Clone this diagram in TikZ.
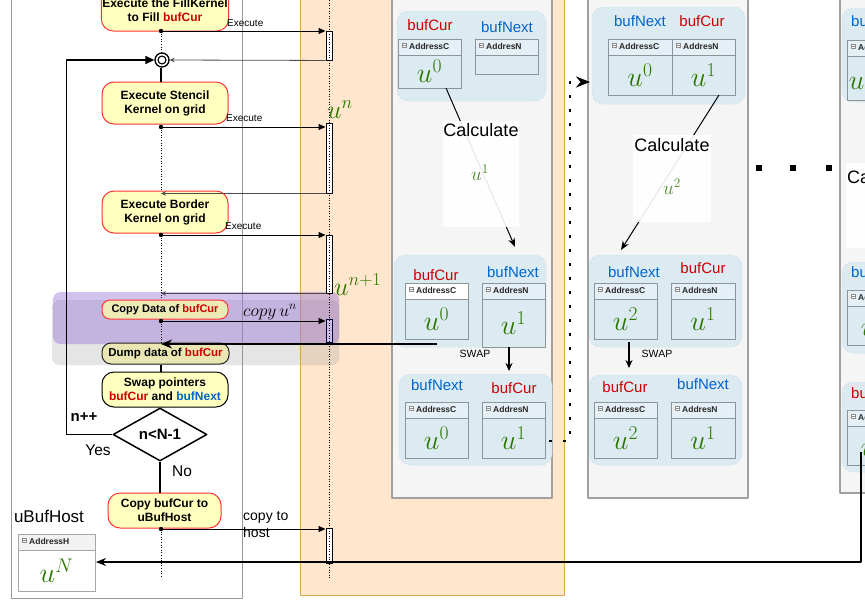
\documentclass[tikz,border=0pt]{standalone}
\usepackage{fix-cm}
\usepackage[no-math]{fontspec}
\setmainfont{Liberation Sans}
\usetikzlibrary{arrows.meta,shapes.geometric}
\definecolor{boxyellow}{HTML}{FFFFC0}
\definecolor{boxred}{HTML}{FF3333}
\definecolor{txtred}{HTML}{CC0000}
\definecolor{txtblue}{HTML}{0066CC}
\definecolor{ugreen}{HTML}{2D7600}
\definecolor{lifeorange}{HTML}{FFE6CC}
\definecolor{lifeedge}{HTML}{E3A84A}
\definecolor{panelgray}{HTML}{F5F5F5}
\definecolor{paneledge}{HTML}{A0A0A0}
\definecolor{grpblue}{HTML}{DCEAF2}
\definecolor{grpedge}{HTML}{C8DCE8}
\definecolor{tblhead}{HTML}{E4F0F6}
\definecolor{tbledge}{HTML}{8A9499}
\definecolor{copyfill}{HTML}{EEEAB6}
\definecolor{dumpfill}{HTML}{E9E6B3}
\definecolor{grppurple}{HTML}{9470D6}
\newcommand{\bcur}{\textcolor{txtred}{bufCur}}
\newcommand{\bnext}{\textcolor{txtblue}{bufNext}}
% table of one buffer: name, x1, y1, x2, y2, header, value
\newcommand{\bufbox}[7]{%
  \draw[tblline, hdfill] (#2,#3) rectangle (#4,#3+16);
  \draw[tblline, bdfill] (#2,#3+16) rectangle (#4,#5);
  \draw[black!45, line width=0.5pt, fill=white] (#2+4,#3+4) rectangle (#2+8.5,#3+8.5);
  \draw[black!45, line width=0.5pt] (#2+5,#3+6.25) -- (#2+7.5,#3+6.25);
  \node[tblhdr] at (#2+11,#3+7.5) {#6};
  \node[uval] (#1) at ({(#2+#4)/2},{(#3+16+#5)/2}) {#7};
}
\begin{document}
\begin{tikzpicture}[x=1pt, y=-1pt, line join=round,
  >={Triangle[length=7pt, width=6pt]},
  proc/.style={draw=boxred, fill=boxyellow, line width=1pt, rounded corners=12pt, align=center, inner sep=1pt, minimum width=126pt, minimum height=42pt, font=\bfseries\fontsize{12}{14}\selectfont},
  decide/.style={diamond, draw, line width=1.5pt, fill=white, inner sep=0pt, minimum width=94pt, minimum height=53pt, font=\bfseries\fontsize{15}{17}\selectfont},
  lifebar/.style={draw, fill=white, line width=0.9pt, minimum width=6pt, inner sep=0pt},
  flowline/.style={line width=1.3pt},
  dotline/.style={line width=0.9pt, dash pattern=on 1pt off 1.6pt},
  execline/.style={line width=1pt, ->},
  retarrow/.style={draw=black!70, line width=0.8pt, -{Stealth[length=5pt, width=4.5pt]}},
  smalllbl/.style={font=\fontsize{10}{12}\selectfont, inner sep=0pt, anchor=base west},
  bufgroup/.style={fill=grpblue, draw=grpedge, dash pattern=on 2pt off 2pt, line width=0.5pt, rounded corners=11pt},
  gpanel/.style={fill=panelgray, draw=paneledge, line width=1.6pt},
  tblline/.style={draw=tbledge, line width=0.8pt},
  hdfill/.style={fill=tblhead},
  bdfill/.style={fill=grpblue},
  tblhdr/.style={font=\bfseries\fontsize{8.5}{10}\selectfont, text=black!85, inner sep=0pt, anchor=west},
  uval/.style={text=ugreen, font=\fontsize{28}{32}\selectfont, inner sep=0pt},
  usmall/.style={text=ugreen!85!white, font=\fontsize{19}{22}\selectfont, inner sep=0pt},
  curlbl/.style={text=txtred, font=\fontsize{15}{18}\selectfont},
  nxtlbl/.style={text=txtblue, font=\fontsize{15}{18}\selectfont},
  calcbox/.style={fill=white, fill opacity=0.9, inner sep=0pt},
  calclbl/.style={font=\fontsize{18}{21}\selectfont, inner sep=0pt},
  calcarrow/.style={line width=1pt, -{Stealth[length=9pt, width=7pt]}},
  swaparrow/.style={line width=1.1pt, -{Stealth[length=8pt, width=7pt]}},
  swaplbl/.style={font=\fontsize{10.5}{12}\selectfont},
  bigtxt/.style={font=\fontsize{15.5}{18}\selectfont},
  bigdots/.style={line width=2.6pt, dash pattern=on 2.6pt off 11.4pt, -{Stealth[length=14pt, width=11pt]}}]
\useasboundingbox (0,0) rectangle (865,614);
\clip (0,0) rectangle (865,614);

% panels
\draw[black!40, line width=1pt] (11,-5) rectangle (242,598);
\draw[fill=lifeorange, draw=lifeedge, line width=0.9pt] (300,-5) rectangle (564,595);
\foreach \x/\b in {392/498, 588/498, 840/493} \draw[gpanel] (\x,-5) rectangle (\x+160,\b);

% column 1
\draw[bufgroup] (397,11) rectangle (546,101);
\draw[bufgroup] (394,255) rectangle (546,347);
\draw[bufgroup] (399,374) rectangle (552,465);
\node[curlbl] at (430,25) {bufCur};
\node[nxtlbl] at (507,27) {bufNext};
\bufbox{a0}{398}{39}{461}{88}{AddressC}{$u^0$}
\bufbox{a1}{475}{39}{538}{74}{AddresN}{}
\coordinate (k1) at (446,88);
\coordinate (k1e) at (515,247);
\draw[calcarrow] (k1) -- (k1e);
\node[calcbox, minimum width=76pt, minimum height=106pt] (calc1) at (481,174) {};
\node[calclbl] at (481,130) {Calculate};
\node[usmall] at (480,173) {$u^1$};
\node[curlbl] at (436,275) {bufCur};
\node[nxtlbl] at (513,272) {bufNext};
\begin{scope}[hdfill/.style={fill=white}]
\bufbox{b0}{405}{283}{468}{339}{AddressC}{$u^0$}
\end{scope}
\bufbox{b1}{482}{283}{545}{347}{AddresN}{$u^1$}
\coordinate (sw1) at (509,347);
\draw[swaparrow] (sw1) -- ++(0,24);
\node[swaplbl] at (475,354) {SWAP};
\node[nxtlbl] at (437,385) {bufNext};
\node[curlbl] at (514,388) {bufCur};
\bufbox{c0}{405}{402}{468}{458}{AddressC}{$u^0$}
\bufbox{c1}{482}{402}{545}{458}{AddresN}{$u^1$}

% column 2
\draw[bufgroup] (592,7) rectangle (745,104);
\draw[bufgroup] (589,255) rectangle (742,347);
\draw[bufgroup] (589,375) rectangle (742,465);
\node[nxtlbl] at (640,21) {bufNext};
\node[curlbl] at (702,21) {bufCur};
\bufbox{p0}{608}{39}{672}{95}{AddressC}{$u^0$}
\bufbox{p1}{672}{39}{735}{95}{AddresN}{$u^1$}
\coordinate (k2) at (719,95);
\coordinate (k2e) at (621,250);
\draw[calcarrow] (k2) -- (k2e);
\node[calcbox, minimum width=78pt, minimum height=87pt] (calc2) at (672,178.5) {};
\node[calclbl] at (672,145) {Calculate};
\node[usmall] at (672,187) {$u^2$};
\node[nxtlbl] at (634,272) {bufNext};
\node[curlbl] at (703,268) {bufCur};
\bufbox{q0}{594}{283}{657}{339}{AddressC}{$u^2$}
\bufbox{q1}{671}{283}{735}{339}{AddresN}{$u^1$}
\coordinate (sw2) at (629,342);
\draw[swaparrow] (sw2) -- ++(0,26);
\node[swaplbl] at (657,354) {SWAP};
\node[curlbl] at (625,387) {bufCur};
\node[nxtlbl] at (703,384) {bufNext};
\bufbox{s0}{594}{402}{657}{458}{AddressC}{$u^2$}
\bufbox{s1}{671}{402}{735}{458}{AddresN}{$u^1$}

% column 3
\draw[bufgroup] (842,8) rectangle (910,102);
\draw[bufgroup] (842,262) rectangle (910,353);
\draw[bufgroup] (842,382) rectangle (910,472);
\node[nxtlbl, anchor=west, inner sep=0pt] at (851,21) {bufNext};
\node[nxtlbl, anchor=west, inner sep=0pt] at (851,272) {bufNext};
\node[curlbl, anchor=west, inner sep=0pt] at (851,393) {bufCur};
\bufbox{r0}{847}{40}{876}{100}{AddressC}{$u^2$}
\bufbox{r1}{847}{290}{900}{345}{AddressC}{$u^2$}
\bufbox{r2}{847}{410}{900}{465}{AddressC}{$u^3$}
\node[calcbox, minimum width=80pt, minimum height=85pt, anchor=north west] (calc3) at (846,163) {};
\node[calclbl, anchor=west] at (847,177) {Calculate};

% copy / dump groups
\draw[fill=black!40, fill opacity=0.25, draw=black!30, draw opacity=0.4, dash pattern=on 2pt off 2pt, rounded corners=8pt] (52,300) rectangle (339,365);
\draw[fill=grppurple, fill opacity=0.42, draw=grppurple, draw opacity=0.3, dash pattern=on 2pt off 2pt, rounded corners=8pt] (53,292) rectangle (339,344);

% lifeline
\node[lifebar, minimum height=29pt] (bar1) at (329,45.5) {};
\node[lifebar, minimum height=70pt] (bar2) at (329,158) {};
\node[lifebar, minimum height=58pt] (bar3) at (329,264) {};
\node[lifebar, minimum height=23pt, fill=grppurple!45!white, draw=black!80!blue] (bar4) at (329,330.5) {};
\node[lifebar, minimum height=35pt] (bar5) at (329,545.5) {};
\coordinate (ltop) at (329,-5);
\coordinate (lbot) at (329,578);
\draw[dotline] (ltop) -- (lbot);
\node[uval, font=\fontsize{26}{28}\selectfont, anchor=base west] at (327,118) {$u^n$};
\node[uval, font=\fontsize{26}{28}\selectfont, anchor=base west] at (334,295) {$u^{n+1}$};

% flow chart
\coordinate (cx) at (161,0);
\node[proc] (fill) at (165,10) {Execute the FillKernel\\to Fill \bcur};
\node[circle, draw, line width=1.3pt, fill=white, minimum size=14pt, inner sep=0pt] (merge) at (162,60) {};
\draw[line width=1.1pt] (merge) circle (4pt);
\node[proc] (stencil) at (165,103) {Execute Stencil\\Kernel on grid};
\node[proc] (border) at (165,212) {Execute Border\\Kernel on grid};
\node[proc, fill=copyfill, minimum height=19pt, rounded corners=8pt, font=\bfseries\fontsize{11}{13}\selectfont] (copyd) at (165,309.5) {Copy Data of \bcur};
\node[proc, draw=black!85, fill=dumpfill, minimum width=127pt, minimum height=21pt, rounded corners=9pt, font=\bfseries\fontsize{11.5}{13}\selectfont] (dump) at (165.5,353.5) {Dump data of \bcur};
\node[proc, draw=black, minimum height=35pt] (swap) at (165,389.5) {Swap pointers\\\bcur{} and \bnext};
\node[decide] (cond) at (160,434.5) {n<N-1};
\node[proc, minimum width=113pt, minimum height=35pt] (copyh) at (164.5,510.5) {Copy bufCur to\\uBufHost};

\coordinate (d1) at (161,31);
\coordinate (d2) at (161,127);
\coordinate (d3) at (161,235);
\coordinate (d4) at (161,321);
\coordinate (d5) at (161,529);
\draw[dotline] (d1) -- (d1 |- merge.north);
\draw[flowline] (d1 |- merge.south) -- (stencil.north -| cx);
\draw[dotline] (d2) -- (border.north -| cx);
\draw[dotline] (d3) -- (copyd.north -| cx);
\draw[dotline] (d4) -- (dump.north -| cx);
\draw[flowline] (dump.south -| cx) -- (swap.north -| cx);
\draw[flowline] (cond.south) -- (cond.south |- copyh.north);
\draw[dotline] (d5) -- (d5 |- lbot);
\draw[flowline, ->, >={Triangle[length=9pt, width=8pt]}] (cond.west) -- ++(-46,0) |- (merge.west);
\node[bigtxt, font=\bfseries\fontsize{15}{18}\selectfont] at (84,417) {n++};
\node[bigtxt] at (98,450) {Yes};
\node[bigtxt] at (182,471) {No};

% calls to the device and back
\draw[execline] (d1) -- (d1 -| bar1.west);
\draw[execline] (d2) -- (d2 -| bar2.west);
\draw[execline] (d3) -- (d3 -| bar3.west);
\draw[execline] (d4) -- (d4 -| bar4.west);
\draw[execline] (d5) -- (d5 -| bar5.west);
\foreach \d in {d1,d2,d3,d4,d5} \fill (\d) circle (2.2pt);
\node[smalllbl] at (227,26) {Execute};
\node[smalllbl] at (226,121) {Execute};
\node[smalllbl] at (225,229) {Execute};
\node[anchor=base west, inner sep=0pt, font=\fontsize{17.5}{20}\selectfont] at (243,316) {$copy\,u^n$};
\node[anchor=north west, inner sep=0pt, align=left, font=\fontsize{14}{17}\selectfont] at (243,511) {copy to\\host};
\draw[retarrow] (bar1.south west) -- (merge.east);
\draw[retarrow] (bar2.south west) -- (bar2.south west -| cx);
\draw[retarrow] (bar3.south west) -- (bar3.south west -| cx);
\coordinate (swapout) at (437,344);
\draw[line width=2pt, -{Stealth[length=11pt, width=9pt]}] (swapout) -- (swapout -| cx);

% host buffer
\node[font=\fontsize{17}{20}\selectfont] at (49,516) {uBufHost};
\begin{scope}[hdfill/.style={fill=black!5}, bdfill/.style={fill=white}, tblline/.style={draw=black!35, line width=1pt}]
\bufbox{uh}{18}{534}{95}{591}{AddressH}{$u^N$}
\end{scope}
\coordinate (c3u) at (861,452);
\coordinate (hostin) at (96,562);
\draw[line width=1.2pt, -{Stealth[length=10pt, width=8pt]}] (c3u) |- (hostin);

% between the columns
\coordinate (c1out) at (549,441);
\coordinate (c2in) at (590,82);
\draw[bigdots] (c1out) -- ++(21,0) |- (c2in);
\foreach \x in {759,793,829} \fill (\x-3,165) rectangle (\x+3,171);
\end{tikzpicture}
\end{document}
